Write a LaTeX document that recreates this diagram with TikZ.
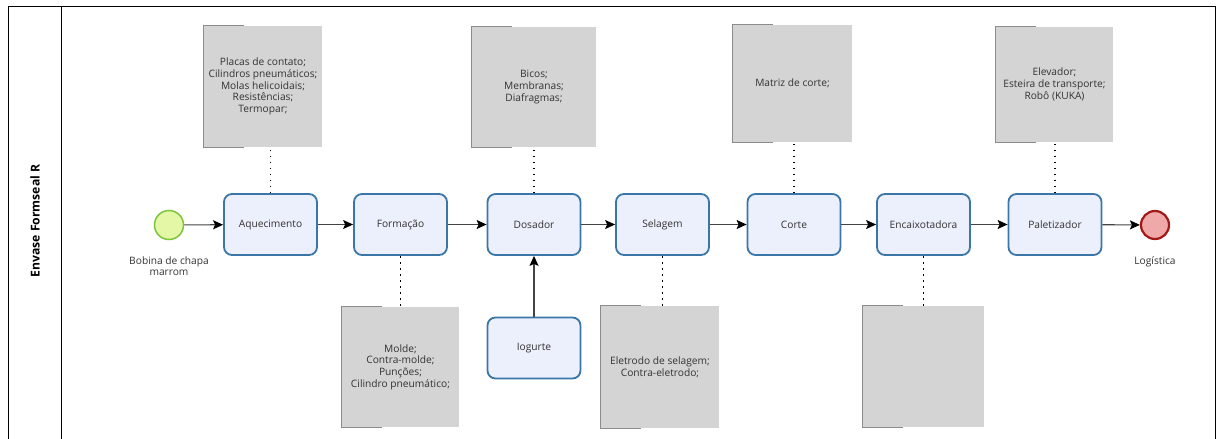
\documentclass[tikz,border=0pt]{standalone}
\usepackage{fontspec}
\setmainfont{Open Sans}
\usetikzlibrary{arrows.meta}
\definecolor{taskfill}{HTML}{ECEFFC}
\definecolor{taskline}{HTML}{3A76A8}
\definecolor{startfill}{HTML}{E4F7A6}
\definecolor{startline}{HTML}{7CC43A}
\definecolor{endfill}{HTML}{F0A9A9}
\definecolor{endline}{HTML}{A31818}
\definecolor{annfill}{HTML}{D4D4D4}
\definecolor{annline}{HTML}{8C8C8C}
\definecolor{txt}{HTML}{333333}
\definecolor{flow}{HTML}{444444}
\tikzset{
  lbl/.style={font=\fontsize{10.2}{11.6}\selectfont, text=txt, align=center},
  task/.style={lbl, draw=taskline, line width=1.8pt, fill=taskfill,
    rounded corners=8pt, minimum width=93pt, minimum height=61pt, inner sep=0pt},
  startev/.style={circle, draw=startline, line width=1.5pt, fill=startfill,
    minimum size=29pt, inner sep=0pt},
  endev/.style={circle, draw=endline, line width=2.2pt, fill=endfill,
    minimum size=28pt, inner sep=0pt},
  annot/.style={lbl, fill=annfill, inner sep=0pt},
  bracket/.style={draw=annline, line width=1.3pt},
  seqflow/.style={draw=flow, line width=1.1pt,
    -{Stealth[length=10pt, width=9pt, inset=2pt, color=black]}},
  assoc/.style={draw=black, line width=1.6pt, dash pattern=on 1.6pt off 4.4pt},
  pool/.style={draw=black, line width=0.9pt}
}
\begin{document}
\begin{tikzpicture}[x=1pt, y=-1pt]
\useasboundingbox (0,0) rectangle (1219,439);

% pool and lane header
\draw[pool] (8,439) -- (8,6) -- (1215,6) -- (1215,439);
\draw[pool] (61,6) -- (61,439);
\node[rotate=90, font=\fontsize{12.2}{14}\selectfont\bfseries, text=black] (poolname) at (35,221) {Envase Formseal R};

% events
\node[startev] (start) at (169,225) {};
\node[lbl, anchor=north] (startlbl) at (169,253) {Bobina de chapa\\marrom};
\node[endev] (fim) at (1155,225) {};
\node[lbl, anchor=north] (fimlbl) at (1155,253) {Logística};

% tasks
\node[task] (aq)  at (270.5,224.5) {Aquecimento};
\node[task] (fo)  at (400.5,224.5) {Formação};
\node[task] (do)  at (534,224.5)   {Dosador};
\node[task] (se)  at (662.5,224.5) {Selagem};
\node[task] (co)  at (794,224.5)   {Corte};
\node[task] (en)  at (923.5,224.5) {Encaixotadora};
\node[task] (pa)  at (1055,224.5)  {Paletizador};
\node[task] (io)  at (534,348)     {Iogurte};

% annotations
\node[annot, minimum width=118pt, minimum height=121pt] (a1) at (263,86.5)
  {Placas de contato;\\Cilindros pneumáticos;\\Molas helicoidais;\\Resistências;\\Termopar;};
\node[annot, minimum width=124pt, minimum height=120pt] (a2) at (534,87)
  {Bicos;\\Membranas;\\Diafragmas;};
\node[annot, minimum width=119pt, minimum height=117pt] (a3) at (792.5,83.5)
  {Matriz de corte;};
\node[annot, minimum width=117pt, minimum height=115pt] (a4) at (1054.5,84.5)
  {Elevador;\\Esteira de transporte;\\Robô (KUKA)};
\node[annot, minimum width=117pt, minimum height=120pt] (b1) at (400.5,367)
  {Molde;\\Contra-molde;\\Punções;\\Cilindro pneumático;};
\node[annot, minimum width=118pt, minimum height=122pt] (b2) at (660,367)
  {Eletrodo de selagem;\\Contra-eletrodo;};
\node[annot, minimum width=121pt, minimum height=121pt] (b3) at (923.5,366.5) {};

\foreach \a in {a1,a2,a3,a4,b1,b2,b3}
  \draw[bracket] ([xshift=40pt]\a.north west) -- (\a.north west)
                 -- (\a.south west) -- ([xshift=40pt]\a.south west);

% associations
\draw[assoc] (aq.north) -- (aq.north |- a1.south);
\draw[assoc] (do.north) -- (do.north |- a2.south);
\draw[assoc] (co.north) -- (co.north |- a3.south);
\draw[assoc] (pa.north) -- (pa.north |- a4.south);
\draw[assoc] (fo.south) -- (fo.south |- b1.north);
\draw[assoc] (se.south) -- (se.south |- b2.north);
\draw[assoc] (en.south) -- (en.south |- b3.north);

% sequence flows
\draw[seqflow] (start) -- (aq);
\draw[seqflow] (aq) -- (fo);
\draw[seqflow] (fo) -- (do);
\draw[seqflow] (do) -- (se);
\draw[seqflow] (se) -- (co);
\draw[seqflow] (co) -- (en);
\draw[seqflow] (en) -- (pa);
\draw[seqflow] (pa) -- (fim);
\draw[seqflow] (io) -- (do);
\end{tikzpicture}
\end{document}
